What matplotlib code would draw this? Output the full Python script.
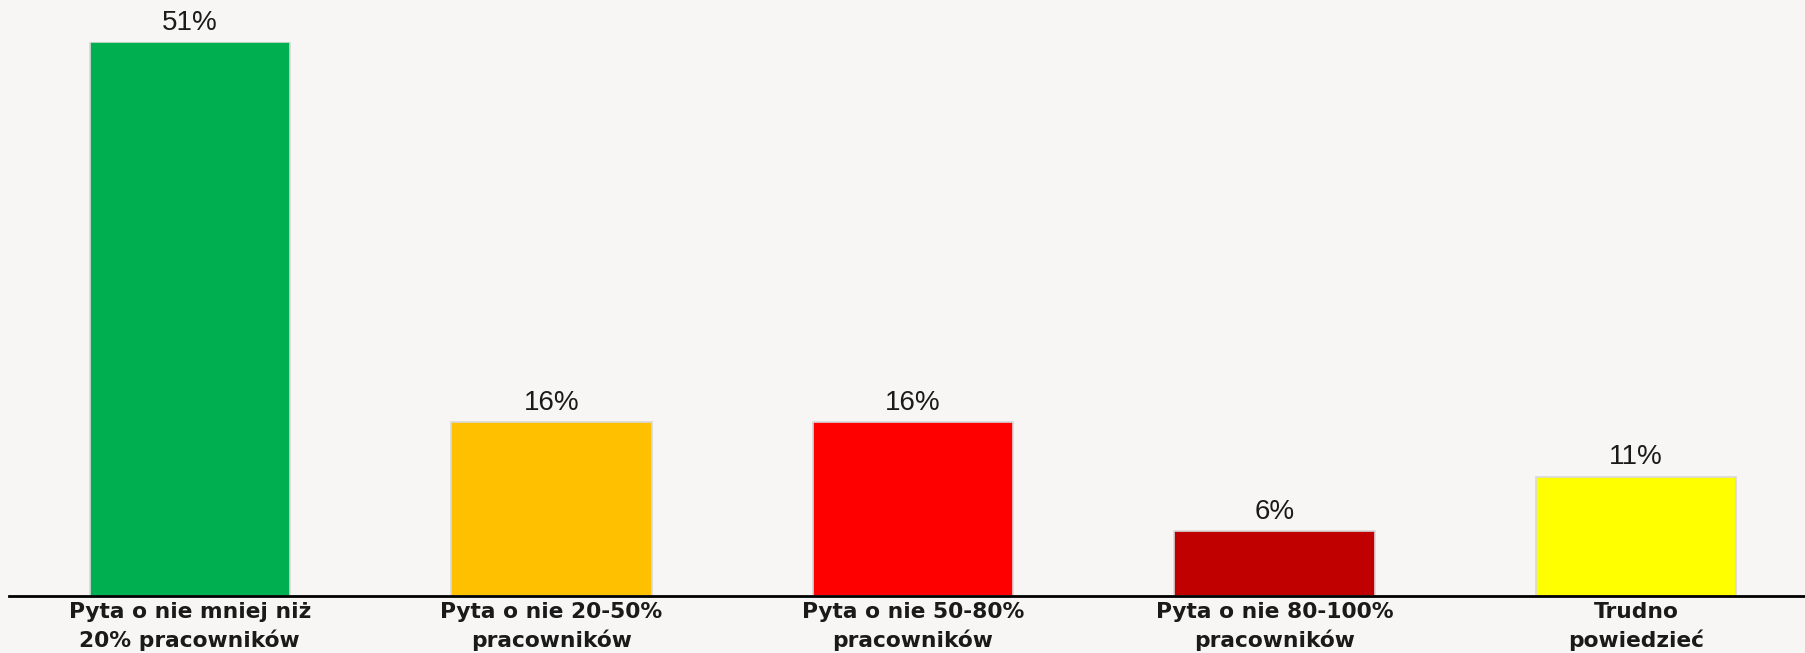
import matplotlib
matplotlib.use("Agg")
import matplotlib.pyplot as plt

# Chart data
categories = [
    "Pyta o nie mniej niż\n20% pracowników",
    "Pyta o nie 20-50%\npracowników",
    "Pyta o nie 50-80%\npracowników",
    "Pyta o nie 80-100%\npracowników",
    "Trudno\npowiedzieć",
]
values = [51, 16, 16, 6, 11]
colors = ["#00B050", "#FFC000", "#FF0000", "#C00000", "#FFFF00"]

bg = "#F7F6F4"

fig = plt.figure(figsize=(18.06, 6.53), dpi=100)
fig.patch.set_facecolor(bg)
ax = fig.add_axes([9 / 1806, 57 / 653, 1 - 9 / 1806, (596 - 42) / 653])
ax.set_facecolor(bg)

x = range(len(values))
bars = ax.bar(x, values, width=0.554, color=colors, edgecolor="#D9D9D9", linewidth=1.2, zorder=2)

# value labels above bars
for rect, v in zip(bars, values):
    ax.annotate(f"{v}%", (rect.get_x() + rect.get_width() / 2, v),
                xytext=(0, 4.5), textcoords="offset points",
                ha="center", va="bottom", fontsize=20,
                family="Liberation Sans", color="#1a1a1a")

ax.set_xlim(-0.5, 4.47)
ax.set_ylim(0, 51)
ax.set_yticks([])
ax.set_xticks(list(x))
ax.set_xticklabels(categories, fontsize=15.7, fontweight="bold",
                   family="DejaVu Sans", color="#1a1a1a", linespacing=1.45)
ax.tick_params(axis="x", length=0, pad=4)

for side in ["top", "right", "left"]:
    ax.spines[side].set_visible(False)
ax.spines["bottom"].set_color("black")
ax.spines["bottom"].set_linewidth(2)
ax.spines["bottom"].set_zorder(3)

plt.savefig("out.png", dpi=100, facecolor=bg)
